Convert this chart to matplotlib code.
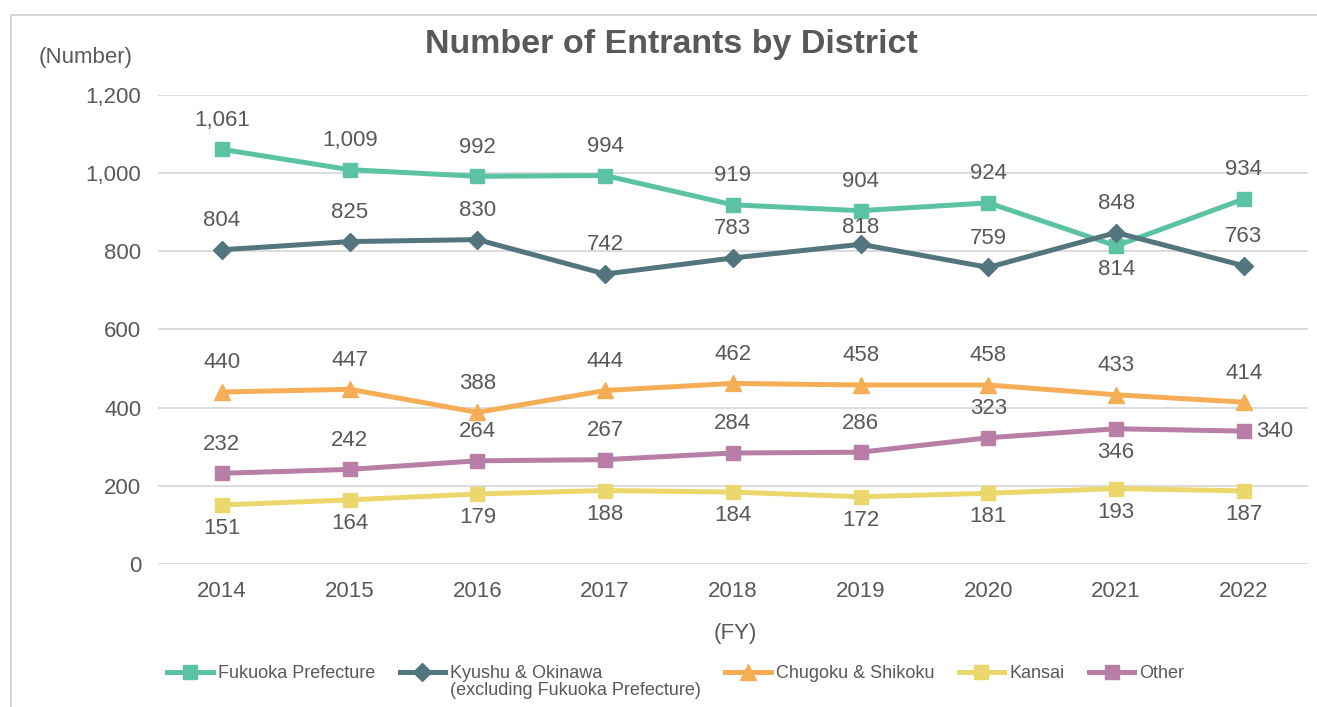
import matplotlib
matplotlib.use("Agg")
import matplotlib.pyplot as plt
from matplotlib.patches import Rectangle

plt.rcParams['font.family'] = ['Liberation Sans', 'DejaVu Sans']

TEXT = '#595959'
GRID = '#D9D9D9'

years = [2014, 2015, 2016, 2017, 2018, 2019, 2020, 2021, 2022]

fukuoka = [1061, 1009, 992, 994, 919, 904, 924, 814, 934]
kyushu = [804, 825, 830, 742, 783, 818, 759, 848, 763]
chugoku = [440, 447, 388, 444, 462, 458, 458, 433, 414]
kansai = [151, 164, 179, 188, 184, 172, 181, 193, 187]
other = [232, 242, 264, 267, 284, 286, 323, 346, 340]

# label placement per point: 'a' above, 'n' just above, 'b' below, 'r' right
fukuoka_pos = ['a', 'a', 'a', 'a', 'a', 'a', 'a', 'b', 'a']
kyushu_pos = ['a', 'a', 'a', 'a', 'a', 'n', 'a', 'a', 'a']
chugoku_pos = ['a'] * 9
kansai_pos = ['b'] * 9
other_pos = ['a', 'a', 'a', 'a', 'a', 'a', 'a', 'b', 'r']

series = [
    ("Fukuoka Prefecture", fukuoka, fukuoka_pos, '#5BC3A4', 's', 10),
    ("Kyushu & Okinawa\n(excluding Fukuoka Prefecture)", kyushu, kyushu_pos, '#52757E', 'D', 9),
    ("Chugoku & Shikoku", chugoku, chugoku_pos, '#F5AE55', '^', 11),
    ("Kansai", kansai, kansai_pos, '#ECD76C', 's', 10),
    ("Other", other, other_pos, '#B97EA6', 's', 10),
]

offsets = {'a': ((0, 21), 'center'), 'n': ((0, 12), 'center'),
           'b': ((0, -17), 'center'), 'r': ((9, 0), 'left')}

fig = plt.figure(figsize=(13.17, 7.07), dpi=100)
ax = fig.add_axes([0.12, 0.2023, 0.873, 0.6633])

# outer frame of the chart area
fig.patches.append(Rectangle((11 / 1317, -0.1), 1.2, 1.1 - 15 / 707,
                             transform=fig.transFigure, fill=False,
                             edgecolor='#D0D0D0', linewidth=1.2, zorder=0))

for name, vals, pos, color, marker, ms in series:
    ax.plot(years, vals, color=color, linewidth=3.6, marker=marker,
            markersize=ms, label=name, zorder=3)
    for x, v, p in zip(years, vals, pos):
        off, ha = offsets[p]
        ax.annotate(f"{v:,}", (x, v), xytext=off, textcoords='offset points',
                    ha=ha, va='center', fontsize=16, color=TEXT, zorder=4)

ax.set_xlim(2013.5, 2022.5)
ax.set_ylim(0, 1200)
ax.set_yticks(range(0, 1201, 200))
ax.set_yticklabels([f"{t:,}" for t in range(0, 1201, 200)])
ax.set_xticks(years)
ax.set_xticklabels([str(y) for y in years])
ax.tick_params(axis='both', length=0, labelsize=16, labelcolor=TEXT)
ax.tick_params(axis='y', pad=12)
ax.tick_params(axis='x', pad=12)
ax.grid(axis='y', color=GRID, linewidth=1.3)
ax.set_axisbelow(True)
for s in ax.spines.values():
    s.set_visible(False)

fig.text(671 / 1317, 1 - 45 / 707, "Number of Entrants by District",
         ha='center', va='center', fontsize=24.5, fontweight='bold', color=TEXT)
fig.text(86 / 1317, 1 - 58 / 707, "(Number)", ha='center', va='center',
         fontsize=16, color=TEXT)
fig.text(735 / 1317, 1 - 633 / 707, "(FY)", ha='center', va='center',
         fontsize=16, color=TEXT)

leg = fig.legend(loc='upper center', bbox_to_anchor=(676 / 1317, 1 - 658 / 707),
                 ncol=5, frameon=False, fontsize=13, labelcolor=TEXT,
                 handlelength=2.5, handleheight=1.0, handletextpad=0.3,
                 columnspacing=1.35, borderaxespad=0)
for t in leg.get_texts():
    t.set_linespacing(1.0)
# keep the handle beside the first line of a two-line label
leg._legend_handle_box.align = 'top'
for col in leg._legend_handle_box.get_children():
    col.align = 'left'
    for item in col.get_children():
        item.align = 'top'

fig.savefig("out.png", dpi=100)
